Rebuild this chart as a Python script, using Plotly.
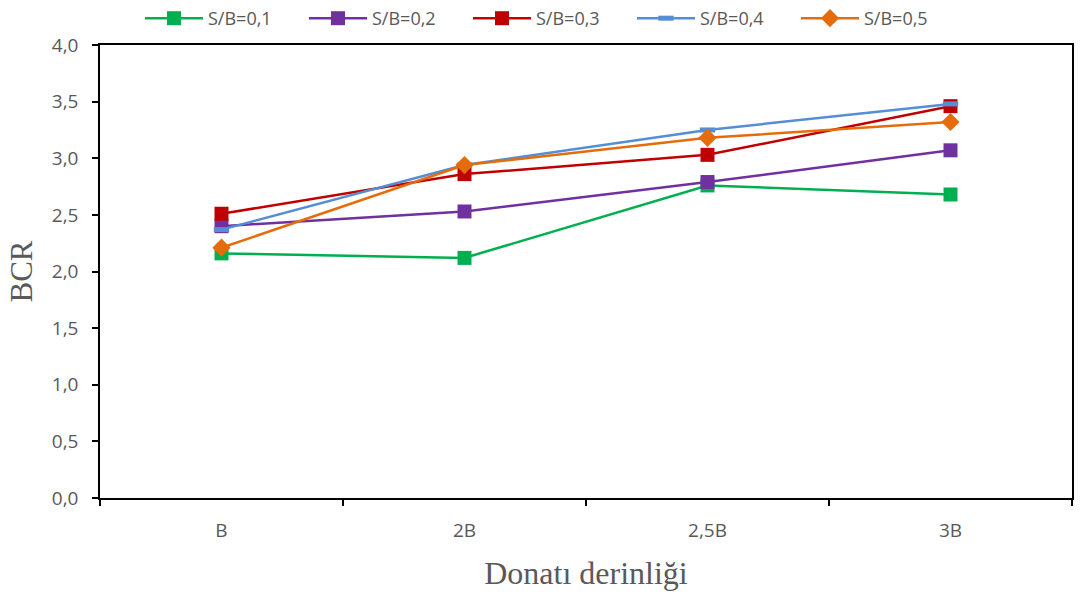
import plotly.graph_objects as go

categories = ["B", "2B", "2,5B", "3B"]
sb01 = [2.16, 2.12, 2.76, 2.68]
sb02 = [2.40, 2.53, 2.79, 3.07]
sb03 = [2.51, 2.86, 3.03, 3.46]
sb04 = [2.37, 2.94, 3.25, 3.48]
sb05 = [2.21, 2.94, 3.18, 3.32]
names = ["S/B=0,1", "S/B=0,2", "S/B=0,3", "S/B=0,4", "S/B=0,5"]
y_ticks = [0, 0.5, 1.0, 1.5, 2.0, 2.5, 3.0, 3.5, 4.0]
y_tick_labels = ["0,0", "0,5", "1,0", "1,5", "2,0", "2,5", "3,0", "3,5", "4,0"]

styles = [
    dict(color="#00B050", symbol="square", size=14, lw=0),
    dict(color="#7030A0", symbol="square", size=14, lw=0),
    dict(color="#C00000", symbol="square", size=14, lw=0),
    dict(color="#558ED5", symbol="line-ew", size=11, lw=5),
    dict(color="#E46C0A", symbol="diamond", size=14, lw=0),
]

fig = go.Figure()
for name, vals, st in zip(names, [sb01, sb02, sb03, sb04, sb05], styles):
    marker = dict(symbol=st["symbol"], size=st["size"], color=st["color"])
    if st["symbol"] == "line-ew":
        marker["line"] = dict(color=st["color"], width=st["lw"])
    else:
        marker["line"] = dict(width=0)
    fig.add_trace(go.Scatter(
        x=categories, y=vals, name=name, mode="lines+markers",
        line=dict(color=st["color"], width=2.5),
        marker=marker,
    ))

fig.update_layout(
    width=1080, height=595,
    margin=dict(l=100, r=8, t=45, b=97, autoexpand=False),
    plot_bgcolor="white", paper_bgcolor="white",
    font=dict(family="Open Sans, Noto Sans, sans-serif", color="#595959", size=18),
    legend=dict(orientation="h", x=140 / 1080, xanchor="left", xref="container",
                y=1.0, yanchor="top", yref="container",
                bgcolor="rgba(0,0,0,0)", itemwidth=58,
                font=dict(size=18, color="#595959"),
                entrywidth=91, entrywidthmode="pixels", traceorder="normal"),
    showlegend=True,
)

fig.update_xaxes(
    type="category", range=[-0.5, 3.5],
    showline=True, linecolor="black", linewidth=1.5, mirror=True,
    ticks="outside", tickson="boundaries", ticklen=6, tickcolor="black", tickwidth=1.5,
    showgrid=False, tickfont=dict(size=19, color="#595959"), ticklabelstandoff=14,
    title=dict(text="Donatı derinliği", font=dict(family="Liberation Serif, Times New Roman, serif", size=32, color="#595959"), standoff=20),
)
fig.update_yaxes(
    range=[0, 4.0], tickvals=y_ticks, ticktext=y_tick_labels,
    showline=True, linecolor="black", linewidth=1.5, mirror=True,
    ticks="outside", ticklen=6, tickcolor="black", tickwidth=1.5,
    showgrid=False, zeroline=False, tickfont=dict(size=19, color="#595959"), ticklabelstandoff=10,
    title=dict(text="BCR", font=dict(family="Liberation Serif, Times New Roman, serif", size=31, color="#595959"), standoff=10),
)

fig.write_html("out.html")
